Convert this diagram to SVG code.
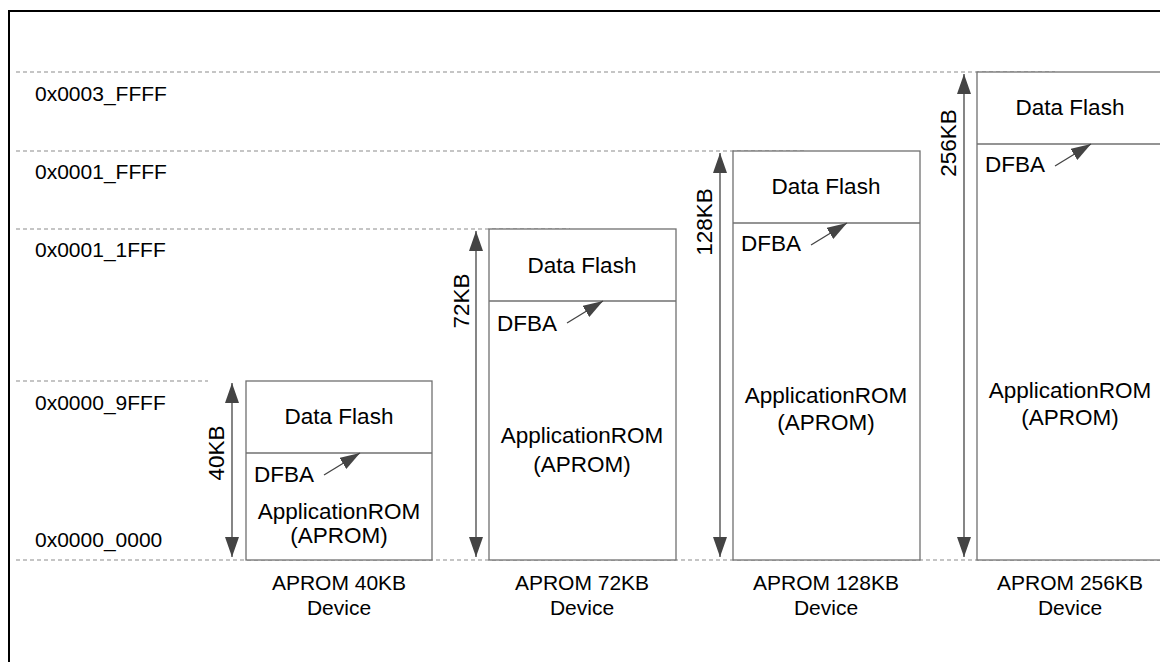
<svg xmlns="http://www.w3.org/2000/svg" width="1160" height="662" viewBox="0 0 1160 662">
<style>
text{font-family:"Liberation Sans",Arial,sans-serif;font-size:21px;fill:#000}
.b{font-size:22.5px}
.m{text-anchor:middle}
.dash{stroke:#8c8c8c;stroke-width:1.2;stroke-dasharray:4 3;fill:none}
.box{fill:#fff;stroke:#707070;stroke-width:1.3}
.arr{stroke:#444;stroke-width:1.3;fill:none}
</style>
<defs>
<marker id="ah" viewBox="0 0 20 14" refX="20" refY="7" markerWidth="20" markerHeight="14" markerUnits="userSpaceOnUse" orient="auto-start-reverse">
<path d="M0,0 L20,7 L0,14 Z" fill="#444"/>
</marker>
<marker id="sh" viewBox="0 0 20 13" refX="20" refY="6.5" markerWidth="20" markerHeight="13" markerUnits="userSpaceOnUse" orient="auto">
<path d="M0,0 L20,6.5 L0,13 Z" fill="#444"/>
</marker>
</defs>
<rect width="1160" height="662" fill="#fff"/>
<path d="M9,662 V11 H1160" fill="none" stroke="#000" stroke-width="2"/>
<g id="guides">
<line class="dash" x1="16" y1="72" x2="1055" y2="72"/>
<line class="dash" x1="16" y1="151" x2="807" y2="151"/>
<line class="dash" x1="16" y1="229" x2="570" y2="229"/>
<line class="dash" x1="16" y1="381" x2="208" y2="381"/>
<line class="dash" x1="16" y1="560" x2="1160" y2="560"/>
</g>
<g id="addresses">
<text x="35" y="101">0x0003_FFFF</text>
<text x="35" y="179">0x0001_FFFF</text>
<text x="35" y="257">0x0001_1FFF</text>
<text x="35" y="410">0x0000_9FFF</text>
<text x="35" y="547">0x0000_0000</text>
</g>
<g id="dev40">
<rect class="box" x="246" y="381" width="186" height="179"/>
<line class="box" x1="246" y1="453" x2="432" y2="453"/>
<text class="m b" x="339" y="424">Data Flash</text>
<text class="b" x="254" y="482">DFBA</text>
<text class="m b" x="339" y="519">ApplicationROM</text>
<text class="m b" x="339" y="543">(APROM)</text>
<text transform="translate(224,453) rotate(-90)" class="m b">40KB</text>
<text class="m" x="339" y="590">APROM 40KB</text>
<text class="m" x="339" y="615">Device</text>
</g>
<g id="dev72">
<rect class="box" x="489" y="229" width="187" height="331"/>
<line class="box" x1="489" y1="301" x2="676" y2="301"/>
<text class="m b" x="582" y="273">Data Flash</text>
<text class="b" x="497" y="331">DFBA</text>
<text class="m b" x="582" y="443">ApplicationROM</text>
<text class="m b" x="582" y="472">(APROM)</text>
<text transform="translate(469,301) rotate(-90)" class="m b">72KB</text>
<text class="m" x="582" y="590">APROM 72KB</text>
<text class="m" x="582" y="615">Device</text>
</g>
<g id="dev128">
<rect class="box" x="733" y="151" width="187" height="409"/>
<line class="box" x1="733" y1="223" x2="920" y2="223"/>
<text class="m b" x="826" y="194">Data Flash</text>
<text class="b" x="741" y="251">DFBA</text>
<text class="m b" x="826" y="403">ApplicationROM</text>
<text class="m b" x="826" y="430">(APROM)</text>
<text transform="translate(712,222) rotate(-90)" class="m b">128KB</text>
<text class="m" x="826" y="590">APROM 128KB</text>
<text class="m" x="826" y="615">Device</text>
</g>
<g id="dev256">
<rect class="box" x="977" y="72" width="200" height="488"/>
<line class="box" x1="977" y1="144" x2="1160" y2="144"/>
<text class="m b" x="1070" y="115">Data Flash</text>
<text class="b" x="985" y="172">DFBA</text>
<text class="m b" x="1070" y="398">ApplicationROM</text>
<text class="m b" x="1070" y="425">(APROM)</text>
<text transform="translate(956,143) rotate(-90)" class="m b">256KB</text>
<text class="m" x="1070" y="590">APROM 256KB</text>
<text class="m" x="1070" y="615">Device</text>
</g>
<g id="connectors">
<line class="arr" x1="232" y1="383" x2="232" y2="557" marker-start="url(#ah)" marker-end="url(#ah)"/>
<line class="arr" x1="476" y1="231" x2="476" y2="557" marker-start="url(#ah)" marker-end="url(#ah)"/>
<line class="arr" x1="720" y1="153" x2="720" y2="557" marker-start="url(#ah)" marker-end="url(#ah)"/>
<line class="arr" x1="964" y1="74" x2="964" y2="557" marker-start="url(#ah)" marker-end="url(#ah)"/>
<line class="arr" x1="324" y1="475" x2="360" y2="453" marker-end="url(#sh)"/>
<line class="arr" x1="567" y1="323" x2="603" y2="301" marker-end="url(#sh)"/>
<line class="arr" x1="811" y1="245" x2="847" y2="223" marker-end="url(#sh)"/>
<line class="arr" x1="1055" y1="166" x2="1091" y2="144" marker-end="url(#sh)"/>
</g>
</svg>
